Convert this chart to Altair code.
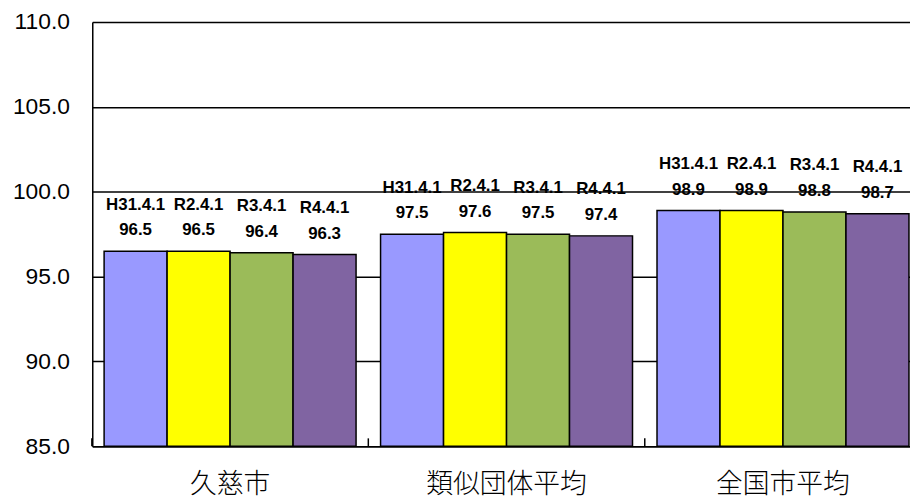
import altair as alt
import pandas as pd

groups = ["久慈市", "類似団体平均", "全国市平均"]
series = ["H31.4.1", "R2.4.1", "R3.4.1", "R4.4.1"]
values_kuji = [96.5, 96.5, 96.4, 96.3]
values_ruiji = [97.5, 97.6, 97.5, 97.4]
values_zenkoku = [98.9, 98.9, 98.8, 98.7]
colors = ["#9999FF", "#FFFF00", "#9BBB59", "#8064A2"]
y_ticks = [85, 90, 95, 100, 105, 110]

rows = []
for g, vals in zip(groups, [values_kuji, values_ruiji, values_zenkoku]):
    for s, v in zip(series, vals):
        rows.append({"group": g, "series": s, "value": v, "vlabel": f"{v:.1f}"})
df = pd.DataFrame(rows)

W, H = 825, 428

x = alt.X("group:N", sort=groups, title=None,
          scale=alt.Scale(paddingInner=0.0886, paddingOuter=0.0233, align=0.92),
          axis=alt.Axis(labelAngle=0, ticks=False, domain=True, domainColor="black",
                        domainWidth=1.5, labelFont="Noto Sans CJK JP", labelFontSize=27,
                        labelColor="black", labelPadding=26, labelBaseline="top",
                        labelFontWeight=300, grid=False))
xo = alt.XOffset("series:N", sort=series, scale=alt.Scale(paddingInner=0, paddingOuter=0))
yscale = alt.Scale(domain=[85, 110], zero=False, nice=False)

bars = alt.Chart(df).mark_bar(stroke="black", strokeWidth=1.5, cornerRadius=0).encode(
    x=x,
    xOffset=xo,
    y=alt.Y("value:Q", scale=yscale, title=None,
            axis=alt.Axis(values=y_ticks, format=".1f", ticks=False, grid=True,
                          gridColor="black", gridWidth=1.5, gridOpacity=1,
                          domain=True, domainColor="black", domainWidth=1.5,
                          labelFont="Liberation Sans", labelFontSize=23,
                          labelColor="black", labelPadding=23)),
    y2=alt.datum(85),
    color=alt.Color("series:N", sort=series,
                    scale=alt.Scale(domain=series, range=colors), legend=None),
)

date_text = alt.Chart(df).mark_text(fontSize=17, fontWeight="bold", font="Liberation Sans",
                                    color="black", dy=-42, baseline="alphabetic").encode(
    x=alt.X("group:N", sort=groups),
    xOffset=xo,
    y=alt.Y("value:Q", scale=yscale),
    text="series:N",
)

value_text = alt.Chart(df).mark_text(fontSize=17, fontWeight="bold", font="Liberation Sans",
                                     color="black", dy=-16, baseline="alphabetic").encode(
    x=alt.X("group:N", sort=groups),
    xOffset=xo,
    y=alt.Y("value:Q", scale=yscale),
    text="vlabel:N",
)

tick_df = pd.DataFrame({"group": groups})
ticks = alt.Chart(tick_df).mark_rule(color="black", strokeWidth=1.5, xOffset=-12.35).encode(
    x=alt.X("group:N", sort=groups, bandPosition=0),
    y=alt.value(H - 8),
    y2=alt.value(H),
)

chart = alt.layer(bars, ticks, date_text, value_text).properties(
    width=W, height=H,
    autosize=alt.AutoSizeParams(type="none"),
    padding={"left": 85, "top": 12, "right": 0, "bottom": 52},
).configure_view(stroke=None).configure(background="white")

chart.save("out.html", embed_options={"renderer": "svg", "actions": False})
